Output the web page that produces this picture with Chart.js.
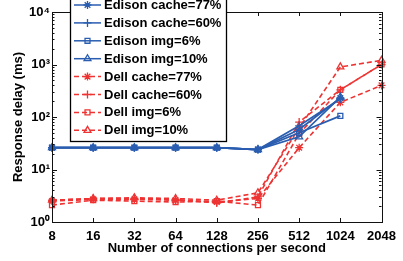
<!DOCTYPE html>
<html>
<head>
<meta charset="utf-8">
<script src="https://cdn.jsdelivr.net/npm/chart.js@4.4.1/dist/chart.umd.min.js"></script>
<style>
html,body{margin:0;padding:0;background:#fff;overflow:hidden;}
canvas{display:block;}
</style>
</head>
<body>
<canvas id="c" width="403" height="261"></canvas>
<script>
// ---- data ----
const categories = ['8','16','32','64','128','256','512','1024','2048'];
const edisonCache77 = [26, 26, 26, 26, 26, 24, 58, 230, null];
const edisonCache60 = [26, 26, 26, 26, 26, 24, 68, 220, null];
const edisonImg6    = [26, 26, 26, 26, 26, 24, 50, 105, null];
const edisonImg10   = [26, 26, 26, 26, 26, 24, 42, 240, null];
const dellCache77   = [2.5, 2.7, 2.7, 2.6, 2.4, 2.8, 26, 190, 400];
const dellCache60   = [2.6, 2.8, 2.8, 2.7, 2.3, 3.0, 80, 330, 1000];
const dellImg6      = [2.1, 2.6, 2.5, 2.4, 2.5, 2.1, 48, 330, 1000];
const dellImg10     = [2.6, 2.8, 2.9, 2.8, 2.6, 3.6, 62, 900, 1200];
const seriesNames = ['Edison cache=77%','Edison cache=60%','Edison img=6%','Edison img=10%',
                     'Dell cache=77%','Dell cache=60%','Dell img=6%','Dell img=10%'];
const yTickValues = [1, 10, 100, 1000, 10000];
const yTickLabels = ['10\u2070','10\u00B9','10\u00B2','10\u00B3','10\u2074'];
const xTitle = 'Number of connections per second';
const yTitle = 'Response delay (ms)';

const BLUE = '#2a5db0', RED = '#ee3333';
const FONT = "'Liberation Sans', Arial, Helvetica, sans-serif";
const series = [edisonCache77, edisonCache60, edisonImg6, edisonImg10, dellCache77, dellCache60, dellImg6, dellImg10];
const styles = ['star','cross','rect','triangle','star','cross','rect','triangle'];

const datasets = series.map((d, i) => {
  const edison = i < 4;
  const col = edison ? BLUE : RED;
  return {
    label: seriesNames[i],
    data: d,
    borderColor: col,
    backgroundColor: 'rgba(0,0,0,0)',
    pointBorderColor: col,
    pointBackgroundColor: 'rgba(0,0,0,0)',
    borderWidth: edison ? 1.7 : 1.6,
    borderDash: edison ? [] : [5, 3],
    pointStyle: styles[i],
    pointRadius: styles[i] === 'rect' ? 3.5 : 4,
    pointBorderWidth: 1.3,
    tension: 0,
    spanGaps: false,
    clip: false
  };
});

function drawMarker(ctx, style, r, x, y, col) {
  if (Chart.helpers && Chart.helpers.drawPoint) {
    ctx.save();
    ctx.strokeStyle = col; ctx.fillStyle = 'rgba(0,0,0,0)'; ctx.lineWidth = 1.3; ctx.setLineDash([]);
    Chart.helpers.drawPoint(ctx, {pointStyle: style, radius: r, borderWidth: 1.3, rotation: 0}, x, y);
    ctx.restore();
  }
}

const framePlugin = {
  id: 'frame',
  afterDraw(chart) {
    const ctx = chart.ctx, a = chart.chartArea;
    const xs = chart.scales.x, ys = chart.scales.y;
    ctx.save();
    ctx.setLineDash([]);
    ctx.strokeStyle = '#111';
    ctx.lineWidth = 1;
    ctx.strokeRect(Math.round(a.left) + 0.5, Math.round(a.top) + 0.5, Math.round(a.right - a.left), Math.round(a.bottom - a.top));
    ctx.beginPath();
    categories.forEach((c, i) => {
      const px = Math.round(xs.getPixelForValue(i)) + 0.5;
      ctx.moveTo(px, a.bottom); ctx.lineTo(px, a.bottom - 4);
      ctx.moveTo(px, a.top); ctx.lineTo(px, a.top + 4);
    });
    for (let e = 0; e < 4; e++) {
      for (let m = 1; m <= 9; m++) {
        const v = m * Math.pow(10, e);
        const py = Math.round(ys.getPixelForValue(v)) + 0.5;
        const len = m === 1 ? 5 : 2.5;
        ctx.moveTo(a.left, py); ctx.lineTo(a.left + len, py);
        ctx.moveTo(a.right, py); ctx.lineTo(a.right - len, py);
      }
    }
    ctx.stroke();

    // legend
    const lx = 70.5, ly = -4.5, lw = 156, lh = 146;
    ctx.fillStyle = '#fff';
    ctx.fillRect(lx, ly, lw, lh);
    ctx.strokeStyle = '#000';
    ctx.lineWidth = 1.3;
    ctx.strokeRect(lx, ly, lw, lh);
    ctx.font = "bold 13px " + FONT;
    ctx.textAlign = 'left';
    ctx.textBaseline = 'middle';
    chart.data.datasets.forEach((ds, i) => {
      const y = 5 + i * 17.9;
      ctx.strokeStyle = ds.borderColor;
      ctx.lineWidth = 1.5;
      ctx.setLineDash(ds.borderDash);
      ctx.beginPath();
      ctx.moveTo(74, y); ctx.lineTo(101, y);
      ctx.stroke();
      ctx.setLineDash([]);
      drawMarker(ctx, ds.pointStyle, ds.pointRadius, 87.5, y, ds.borderColor);
      ctx.fillStyle = '#000';
      ctx.fillText(ds.label, 104, y + 0.5);
    });
    ctx.restore();
  }
};

new Chart(document.getElementById('c'), {
  type: 'line',
  data: { labels: categories, datasets },
  options: {
    responsive: false,
    animation: false,
    devicePixelRatio: 1,
    layout: { autoPadding: false, padding: { left: 0, right: 10, top: 12, bottom: 0 } },
    plugins: { legend: { display: false }, tooltip: { enabled: false } },
    scales: {
      x: {
        type: 'category',
        offset: false,
        grid: { display: false, drawTicks: false },
        border: { display: false },
        ticks: { autoSkip: false, maxRotation: 0, minRotation: 0, padding: 7, color: '#000',
                 font: { family: FONT, size: 13, weight: 'bold' } },
        title: { display: true, text: xTitle, color: '#000', padding: { top: 0, bottom: 6 },
                 font: { family: FONT, size: 13, weight: 'bold', lineHeight: 1 } },
        afterFit: s => { s.height = 39; }
      },
      y: {
        type: 'logarithmic',
        min: 1, max: 10000,
        grid: { display: false, drawTicks: false },
        border: { display: false },
        afterBuildTicks: s => { s.ticks = yTickValues.map(v => ({ value: v, major: true })); },
        ticks: { padding: 2, color: '#000', font: { family: FONT, size: 13, weight: 'bold' },
                 callback: (v) => { const k = yTickValues.indexOf(v); return k >= 0 ? yTickLabels[k] : ''; } },
        title: { display: true, text: yTitle, color: '#000', padding: { top: 12, bottom: 0 },
                 font: { family: FONT, size: 13, weight: 'bold', lineHeight: 1 } },
        afterFit: s => { s.width = 52; }
      }
    }
  },
  plugins: [framePlugin]
});
</script>
</body>
</html>
